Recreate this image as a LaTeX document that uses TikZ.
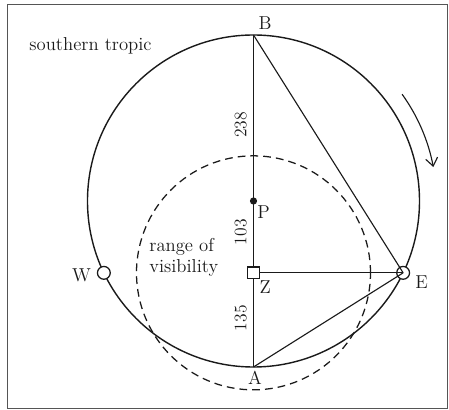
\documentclass[tikz,border=0pt]{standalone}
\usepackage{tikz}
\usetikzlibrary{arrows.meta,calc}
\definecolor{ink}{HTML}{1A1A1A}
\definecolor{rahmen}{HTML}{555555}
\tikzset{
  tropic/.style={ink,line width=1pt},
  sightline/.style={ink,line width=0.9pt,dash pattern=on 5.5pt off 3.6pt},
  seg/.style={ink,line width=0.8pt},
  ring/.style={ink,fill=white,line width=0.9pt},
  turn/.style={-{Straight Barb[length=2mm,width=3mm]},ink,line width=0.8pt},
  lbl/.style={ink,inner sep=0pt,font=\fontsize{13.3}{15}\selectfont},
  num/.style={ink,inner sep=0pt,rotate=90,font=\fontsize{12.5}{14}\selectfont},
}
\begin{document}
\begin{tikzpicture}
  \useasboundingbox (-6.3375,-5.225) rectangle (4.8875,5.025);
  \draw[rahmen,line width=0.6pt] (-6.1625,-5.1875) rectangle (4.85,4.9125);
  % points on the tropic
  \coordinate (P) at (0,0);
  \coordinate (B) at (0,4.15);
  \coordinate (A) at (0,-4.15);
  \coordinate (Z) at (0,-1.796);
  \coordinate (E) at (3.741,-1.796);
  \coordinate (W) at (-3.741,-1.796);
  \draw[tropic] (P) circle[radius=4.15];
  \draw[sightline] (Z) circle[radius=2.925];
  \draw[seg] (B) -- (A);
  \draw[ring] (W) circle[radius=0.16];
  \draw[ring] (E) circle[radius=0.16];
  \draw[seg] (Z) -- (E);
  \draw[seg] (B) -- (E);
  \draw[seg] (A) -- (E);
  \draw[seg,fill=white] ($(Z)+(-0.145,-0.145)$) rectangle ($(Z)+(0.145,0.145)$);
  \fill[ink] (P) circle[radius=0.09];
  \draw[turn] (35.7:4.575) arc[start angle=35.7,end angle=10.7,radius=4.575];
  % labels
  \node[lbl] (lB) at (0.29,4.45) {B};
  \node[lbl] (lA) at (0.04,-4.43) {A};
  \node[lbl] (lP) at (0.25,-0.29) {P};
  \node[lbl] (lZ) at (0.29,-2.16) {Z};
  \node[lbl] (lE) at (4.2,-2.03) {E};
  \node[lbl] (lW) at (-4.3,-1.86) {W};
  \node[num] (n238) at (-0.32,1.9) {238};
  \node[num] (n103) at (-0.32,-0.78) {103};
  \node[num] (n135) at (-0.32,-2.93) {135};
  \node[lbl] (sued) at (-4.075,3.875) {southern tropic};
  \node[lbl,anchor=west,align=left] (sicht) at (-2.61,-1.41) {range of\\visibility};
\end{tikzpicture}
\end{document}
